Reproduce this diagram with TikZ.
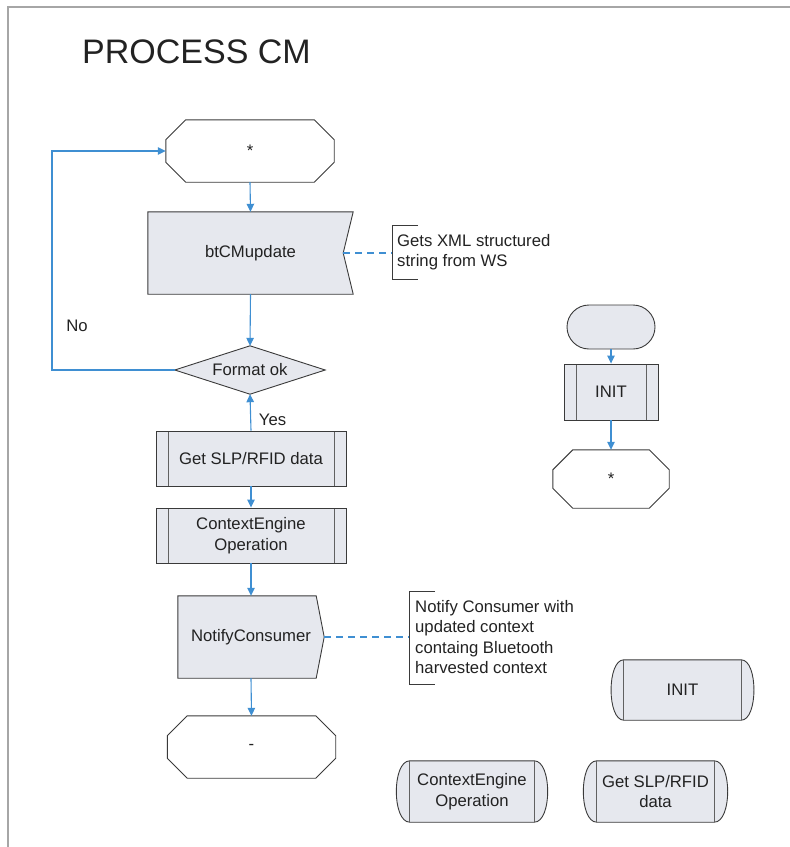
\documentclass[tikz,border=0pt]{standalone}
\usepackage{fontspec}
\setmainfont{Liberation Sans}
\usetikzlibrary{arrows.meta}
\pgfdeclarelayer{background}
\pgfsetlayers{background,main}

\definecolor{boxfill}{HTML}{E6E8EE}
\definecolor{flowblue}{HTML}{3F8FD2}
\definecolor{edge}{HTML}{3A3A3A}
\definecolor{framegray}{HTML}{A6A6A6}
\definecolor{ink}{HTML}{222222}

% octagon (connector / label) drawn around a placeholder node
\newcommand\octagonaround[2]{%
  \draw[hollow] ([xshift=#2]#1.north west) -- ([xshift=-#2]#1.north east)
    -- ([yshift=-#2]#1.north east) -- ([yshift=#2]#1.south east)
    -- ([xshift=-#2]#1.south east) -- ([xshift=#2]#1.south west)
    -- ([yshift=#2]#1.south west) -- ([yshift=-#2]#1.north west) -- cycle;}

% box with bulging ends and inner bars
\newcommand\capsulearound[2]{%
  \draw[shaded] ([xshift=#2]#1.north west) -- ([xshift=-#2]#1.north east)
    .. controls ([xshift=4bp]#1.north east) and ([xshift=4bp]#1.south east)
    .. ([xshift=-#2]#1.south east) -- ([xshift=#2]#1.south west)
    .. controls ([xshift=-4bp]#1.south west) and ([xshift=-4bp]#1.north west)
    .. cycle;
  \draw[bar] ([xshift=#2]#1.north west) -- ([xshift=#2]#1.south west)
    ([xshift=-#2]#1.north east) -- ([xshift=-#2]#1.south east);}

\begin{document}
\begin{tikzpicture}[x=1bp,y=-1bp,
  lbl/.style={font=\fontsize{16.7bp}{20.5bp}\selectfont, text=ink,
    align=center, inner sep=0pt},
  hold/.style={lbl, rectangle, draw=none},
  shaded/.style={draw=edge, line width=0.9bp, fill=boxfill},
  hollow/.style={draw=edge, line width=0.9bp, fill=white},
  bar/.style={draw=edge!80, line width=0.9bp},
  subproc/.style={hold, shaded, path picture={
    \draw[bar] ([xshift=12bp]path picture bounding box.north west)
      -- ([xshift=12bp]path picture bounding box.south west)
      ([xshift=-12bp]path picture bounding box.north east)
      -- ([xshift=-12bp]path picture bounding box.south east);}},
  flow/.style={draw=flowblue, line width=1.1bp,
    -{Triangle[length=8bp,width=7.5bp]}},
  note/.style={draw=flowblue, line width=2bp, dash pattern=on 7bp off 5bp},
  bracket/.style={draw=edge, line width=0.9bp},
  frameline/.style={draw=framegray, line width=1.3bp}]

\useasboundingbox (0,0) rectangle (790,847);

% page frame
\draw[frameline] (8,847) -- (8,7) -- (790,7);

\node[anchor=base west, font=\fontsize{34bp}{40bp}\selectfont, text=ink,
  inner sep=0pt] (title) at (82,63) {PROCESS CM};

% main flow
\node[hold, minimum width=168bp, minimum height=62bp] (s1) at (250,151) {*};
\node[hold, minimum width=205bp, minimum height=82bp] (cm) at (250.5,253) {btCMupdate};
\node[hold, minimum width=150bp, minimum height=48bp] (fmt) at (250,370) {Format ok};
\node[subproc, minimum width=190bp, minimum height=55bp] (slp) at (251,458.5) {Get SLP/RFID data};
\node[subproc, minimum width=190bp, minimum height=55bp] (ce) at (251,535.5) {ContextEngine\\Operation};
\node[hold, minimum width=146bp, minimum height=82bp] (nc) at (251,637) {NotifyConsumer};
\node[hold, minimum width=168bp, minimum height=62bp] (e1) at (251.5,747) {-};

% init flow
\node[shaded, rounded corners=22bp, minimum width=88bp, minimum height=44bp,
  inner sep=0pt] (t0) at (611,327) {};
\node[subproc, minimum width=94bp, minimum height=56bp] (init) at (611,392) {INIT};
\node[hold, minimum width=116bp, minimum height=58bp] (s2) at (611,479) {*};

% legend shapes
\node[hold, minimum width=143bp, minimum height=60bp] (i2) at (682.5,690) {INIT};
\node[hold, minimum width=152bp, minimum height=61bp] (ce2) at (472,791.5) {ContextEngine\\Operation};
\node[hold, minimum width=145bp, minimum height=61bp] (slp2) at (655.5,791.5) {Get SLP/RFID\\data};

\begin{pgfonlayer}{background}
  \octagonaround{s1}{20bp}
  \octagonaround{e1}{20bp}
  \octagonaround{s2}{20bp}
  \draw[shaded] (cm.north west) -- (cm.north east) -- ([xshift=-10bp]cm.east)
    -- (cm.south east) -- (cm.south west) -- cycle;
  \draw[shaded] (fmt.north) -- (fmt.east) -- (fmt.south) -- (fmt.west) -- cycle;
  \draw[shaded] (nc.north west) -- ([xshift=-8bp]nc.north east) -- (nc.east)
    -- ([xshift=-8bp]nc.south east) -- (nc.south west) -- cycle;
  \capsulearound{i2}{13bp}
  \capsulearound{ce2}{14bp}
  \capsulearound{slp2}{14bp}
\end{pgfonlayer}

% annotations
\coordinate (b1) at (392,253);
\node[lbl, align=left, anchor=west] (a1) at (397,252) {Gets XML structured\\string from WS};
\draw[bracket] (418,225) -- (392,225) -- (392,279) -- (418,279);
\draw[note] ([xshift=-10bp]cm.east) -- (b1);

\coordinate (b2) at (409,637);
\node[lbl, align=left, anchor=west] (a2) at (415,637) {Notify Consumer with\\updated context\\containg Bluetooth\\harvested context};
\draw[bracket] (435,591) -- (409,591) -- (409,684) -- (435,684);
\draw[note] (nc.east) -- (b2);

% connectors
\coordinate (loopcorner) at (52,151);
\draw[flow] (s1.south) -- (cm.north);
\draw[flow] (cm.south) -- (fmt.north);
\draw[flow] (fmt.west) -| (loopcorner) -- (s1.west);
\draw[flow] (slp.north) -- (fmt.south);
\draw[flow] (slp.south) -- (ce.north);
\draw[flow] (ce.south) -- (nc.north);
\draw[flow] (nc.south) -- (e1.north);
\draw[flow] (t0.south) -- (init.north);
\draw[flow] (init.south) -- (s2.north);

\node[lbl] (no) at (77,325.5) {No};
\node[lbl] (yes) at (272.5,420) {Yes};

\end{tikzpicture}
\end{document}
